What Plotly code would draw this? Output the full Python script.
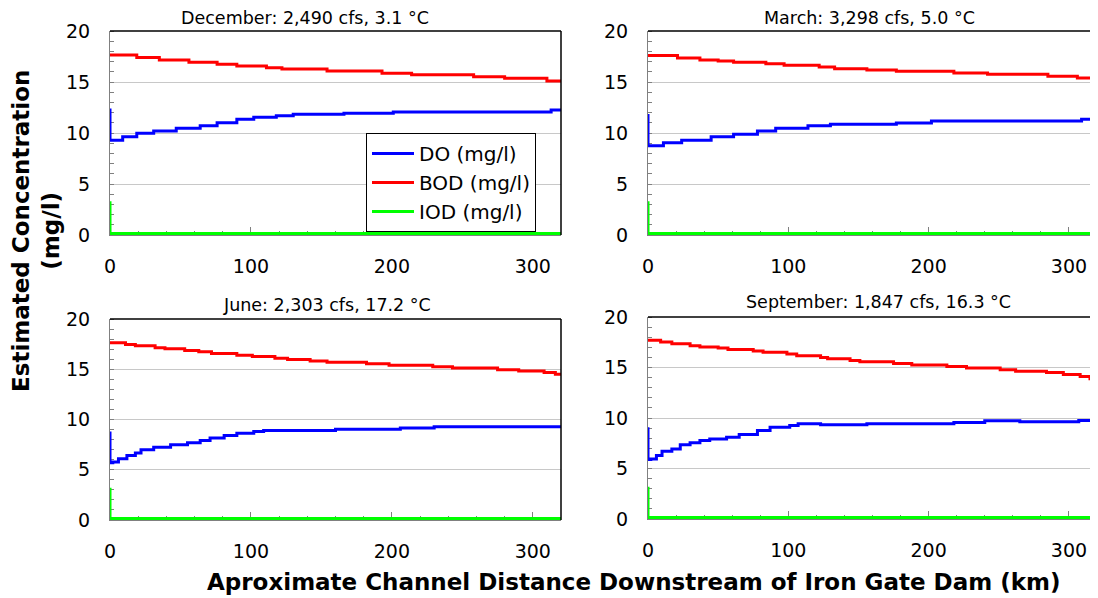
import plotly.graph_objects as go

# ---------------- data ----------------
titles = ["December: 2,490 cfs, 3.1 °C", "March: 3,298 cfs, 5.0 °C",
          "June: 2,303 cfs, 17.2 °C", "September: 1,847 cfs, 16.3 °C"]

dec_do_x = [0, 0, 9, 19, 31, 47, 64, 76, 90, 102, 118, 130, 166, 201, 313, 320]
dec_do_y = [12.4, 9.3, 9.64, 9.97, 10.2, 10.46, 10.7, 11.0, 11.34, 11.54, 11.7, 11.83, 11.93, 12.06, 12.25, 12.25]
dec_bod_x = [0, 19, 35, 56, 76, 90, 111, 122, 154, 193, 214, 258, 280, 310, 320]
dec_bod_y = [17.65, 17.4, 17.16, 16.93, 16.73, 16.57, 16.4, 16.27, 16.08, 15.85, 15.72, 15.52, 15.36, 15.1, 15.1]
dec_iod_x = [0, 0, 320]
dec_iod_y = [3.3, 0.15, 0.15]

mar_do_x = [0, 0, 11, 24, 45, 61, 78, 91, 114, 130, 177, 202, 309, 320]
mar_do_y = [11.86, 8.76, 9.05, 9.3, 9.64, 9.87, 10.2, 10.46, 10.7, 10.85, 10.98, 11.18, 11.34, 11.34]
mar_bod_x = [0, 21, 37, 50, 61, 84, 97, 122, 133, 156, 177, 218, 242, 285, 306, 318, 320]
mar_bod_y = [17.6, 17.35, 17.16, 17.06, 16.93, 16.8, 16.63, 16.47, 16.3, 16.18, 16.05, 15.88, 15.75, 15.56, 15.4, 15.26, 15.26]
mar_iod_x = [0, 0, 320]
mar_iod_y = [3.3, 0.15, 0.15]

jun_do_x = [0, 0, 2, 6, 12, 18, 22, 31, 43, 55, 64, 71, 81, 90, 102, 109, 160, 206, 230, 320]
jun_do_y = [8.8, 5.7, 5.77, 6.1, 6.43, 6.66, 6.99, 7.25, 7.48, 7.68, 7.91, 8.17, 8.4, 8.63, 8.8, 8.9, 9.03, 9.16, 9.29, 9.29]
jun_bod_x = [0, 11, 18, 32, 39, 53, 63, 72, 90, 101, 117, 126, 142, 154, 182, 198, 229, 243, 275, 290, 308, 316, 320]
jun_bod_y = [17.63, 17.46, 17.33, 17.13, 17.04, 16.87, 16.74, 16.57, 16.4, 16.28, 16.1, 15.96, 15.83, 15.7, 15.55, 15.4, 15.26, 15.13, 14.96, 14.83, 14.67, 14.5, 14.5]
jun_iod_x = [0, 0, 320]
jun_iod_y = [3.2, 0.15, 0.15]

sep_do_x = [0, 0, 2, 6, 10, 17, 23, 30, 37, 44, 56, 65, 78, 87, 101, 107, 123, 156, 218, 240, 265, 307, 320]
sep_do_y = [9.09, 5.88, 5.95, 6.28, 6.7, 6.94, 7.34, 7.54, 7.77, 7.93, 8.1, 8.36, 8.76, 9.09, 9.26, 9.42, 9.32, 9.42, 9.55, 9.72, 9.62, 9.75, 9.75]
sep_bod_x = [0, 9, 17, 30, 37, 50, 57, 75, 82, 99, 106, 123, 128, 144, 151, 175, 188, 213, 227, 251, 262, 284, 296, 308, 315, 320]
sep_bod_y = [17.69, 17.52, 17.36, 17.16, 17.02, 16.93, 16.79, 16.63, 16.5, 16.33, 16.17, 16.0, 15.87, 15.7, 15.57, 15.4, 15.24, 15.1, 14.94, 14.78, 14.64, 14.51, 14.31, 14.12, 13.88, 13.88]
sep_iod_x = [0, 0, 320]
sep_iod_y = [3.2, 0.15, 0.15]

x_tick_vals = [0, 100, 200, 300]
y_tick_vals = [0, 5, 10, 15, 20]

series_names = ["DO (mg/l)", "BOD (mg/l)", "IOD (mg/l)"]
series_colors = ["#0000FF", "#FF0000", "#00FF00"]

panels = [
    [(dec_do_x, dec_do_y), (dec_bod_x, dec_bod_y), (dec_iod_x, dec_iod_y)],
    [(mar_do_x, mar_do_y), (mar_bod_x, mar_bod_y), (mar_iod_x, mar_iod_y)],
    [(jun_do_x, jun_do_y), (jun_bod_x, jun_bod_y), (jun_iod_x, jun_iod_y)],
    [(sep_do_x, sep_do_y), (sep_bod_x, sep_bod_y), (sep_iod_x, sep_iod_y)],
]

# ---------------- layout geometry ----------------
# The page body has an 8px margin, so the figure is drawn at (8, 8) on screen.
OFF = 8
W, H = 1098 - OFF, 598 - OFF


def px(sx):
    return (sx - OFF) / W


def py(sy):
    return 1 - (sy - OFF) / H


xdoms = [[px(110), px(561)], [px(648), px(1097)], [px(110), px(561)], [px(648), px(1097)]]
ydoms = [[py(235), py(31)], [py(235), py(31)], [py(520), py(319)], [py(519), py(317)]]
title_pos = [(305, 18.5), (869, 18.5), (327, 305), (878, 302)]

FONT = "DejaVu Sans"
fig = go.Figure()

for i, panel in enumerate(panels):
    xa = "x" if i == 0 else f"x{i+1}"
    ya = "y" if i == 0 else f"y{i+1}"
    for j, (xs, ys) in enumerate(panel):
        fig.add_trace(go.Scatter(
            x=xs, y=ys, mode="lines", line=dict(color=series_colors[j], width=3, shape="hv"),
            name=series_names[j], showlegend=(i == 0), xaxis=xa, yaxis=ya,
            hoverinfo="skip"))

layout = dict(
    width=W, height=H, margin=dict(l=0, r=0, t=0, b=0, pad=0, autoexpand=False),
    paper_bgcolor="white", plot_bgcolor="white",
    font=dict(family=FONT, size=17, color="black"),
    legend=dict(x=px(366), y=py(133), xanchor="left", yanchor="top",
                bordercolor="black", borderwidth=1, bgcolor="white",
                font=dict(family=FONT, size=20), tracegroupgap=0,
                itemwidth=42),
    shapes=[], annotations=[],
)

for i in range(4):
    xk = "xaxis" if i == 0 else f"xaxis{i+1}"
    yk = "yaxis" if i == 0 else f"yaxis{i+1}"
    xa = "x" if i == 0 else f"x{i+1}"
    ya = "y" if i == 0 else f"y{i+1}"
    layout[xk] = dict(
        domain=xdoms[i], anchor=ya, range=[0, 320], tickmode="array", automargin=False,
        tickvals=x_tick_vals, ticks="inside", ticklen=8, tickcolor="#808080",
        showline=True, linecolor="#808080", linewidth=1, showgrid=False, zeroline=False,
        ticklabelstandoff=14, tickfont=dict(family=FONT, size=19),
        minor=dict(dtick=20, tick0=0, ticks="inside", ticklen=4, tickcolor="#808080", showgrid=False),
        layer="below traces",
    )
    layout[yk] = dict(
        domain=ydoms[i], anchor=xa, range=[0, 20], tickmode="array", automargin=False,
        tickvals=y_tick_vals, ticks="outside", ticklen=15, tickcolor="rgba(0,0,0,0)",
        showline=True, linecolor="#808080", linewidth=1, showgrid=True,
        gridcolor="#C8C8C8", gridwidth=1, zeroline=False,
        tickfont=dict(family=FONT, size=19),
        minor=dict(dtick=1, tick0=0, ticks="inside", ticklen=4, tickcolor="#808080", showgrid=False),
        layer="below traces",
    )
    # frame (top and right borders)
    layout["shapes"].append(dict(type="line", xref=f"{xa} domain", yref=f"{ya} domain",
                                 x0=0, x1=1, y0=1, y1=1, line=dict(color="black", width=1.5)))
    layout["shapes"].append(dict(type="line", xref=f"{xa} domain", yref=f"{ya} domain",
                                 x0=1, x1=1, y0=0, y1=1, line=dict(color="black", width=1.5)))
    tx, ty = title_pos[i]
    layout["annotations"].append(dict(
        text=titles[i], x=px(tx), y=py(ty), xref="paper", yref="paper",
        xanchor="center", yanchor="middle", showarrow=False, borderpad=0,
        font=dict(family=FONT, size=17.5, color="black")))

layout["annotations"].append(dict(
    text="<b>Estimated Concentration</b><br><b>(mg/l)</b>", x=px(36), y=py(231),
    xref="paper", yref="paper",
    xanchor="center", yanchor="middle", textangle=-90, showarrow=False,
    font=dict(family=FONT, size=23, color="black")))
layout["annotations"].append(dict(
    text="<b>Aproximate Channel Distance Downstream of Iron Gate Dam (km)</b>",
    x=px(633), y=py(582), xref="paper", yref="paper",
    xanchor="center", yanchor="middle", showarrow=False,
    font=dict(family=FONT, size=23, color="black")))

fig.update_layout(**layout)
fig.write_html("out.html")
